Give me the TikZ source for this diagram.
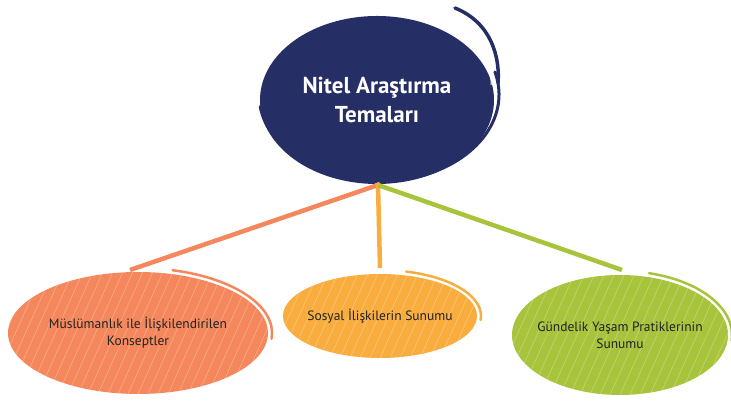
\documentclass[tikz,border=0pt]{standalone}
\usepackage{fontspec}
\setmainfont{PT Sans}
\usetikzlibrary{shapes.geometric}
\definecolor{navy}{HTML}{262E66}
\definecolor{coral}{HTML}{F5875C}
\definecolor{amber}{HTML}{F8AD3E}
\definecolor{lime}{HTML}{A8C43C}
\definecolor{ink}{HTML}{222222}
\tikzset{
  bubble/.style={ellipse, inner sep=0pt, align=center, font=\fontsize{13.5}{17}\selectfont, text=ink},
  link/.style={line width=4.5pt},
}
\newcommand{\hatchfill}[4]{% center x, center y, rx, ry
  \begin{scope}
    \clip (#1,#2) ellipse [x radius=#3, y radius=#4];
    \foreach \k in {-300,-290,...,300}{
      \draw[white, opacity=0.3, line width=0.6pt] (#1+\k,#2-#4) -- ++(#4*0.9,2*#4);
    }
  \end{scope}}
\newcommand{\swoosh}[6]{% color, cx, cy, rx, ry, width
  \draw[#1, line width=#6, line cap=round] (#2,#3) ++(75:#4+4 and #5+4) arc[start angle=75, end angle=-5, x radius=#4+4, y radius=#5+4];
}
\begin{document}
\begin{tikzpicture}[x=1pt,y=1pt]
\useasboundingbox (0,0) rectangle (731,403);
\coordinate (hub) at (378,218);
% top
\fill[navy] (377,303) ellipse [x radius=117, y radius=84];
\draw[navy, line width=3pt, line cap=round] (379,300) ++(15:120) arc[start angle=15, end angle=-172, x radius=120, y radius=87];
\draw[navy, line width=3.5pt, line cap=round] (455,395) .. controls (492,380) and (500,345) .. (498,320);
\draw[white, line width=1pt] (452,387) .. controls (482,372) and (492,340) .. (491,318);
\node[bubble, font=\fontsize{23}{29}\selectfont\bfseries, text=white, minimum width=230pt, minimum height=165pt] (top) at (377,303) {Nitel Araştırma\\Temaları};
% connectors
\draw[link, coral] (hub) -- (130,133);
\draw[link, amber] (hub) -- (380,135);
\draw[link, lime] (hub) -- (622,133);
\draw[link, amber] (top.south) -- (hub);
% left
\fill[coral] (138,70) ellipse [x radius=130, y radius=61];
\hatchfill{138}{70}{130}{61}
\swoosh{coral}{138}{70}{130}{61}{2.5pt}
\node[bubble, minimum width=255pt, minimum height=120pt] (left) at (138,70) {Müslümanlık ile İlişkilendirilen\\Konseptler};
% middle
\fill[amber] (380,87) ellipse [x radius=97, y radius=42];
\hatchfill{380}{87}{97}{42}
\swoosh{amber}{380}{87}{97}{42}{2.5pt}
\node[bubble, minimum width=190pt, minimum height=82pt] (mid) at (380,87) {Sosyal İlişkilerin Sunumu};
% right
\fill[lime] (620,68) ellipse [x radius=108, y radius=60];
\hatchfill{620}{68}{108}{60}
\swoosh{lime}{620}{68}{108}{60}{2.5pt}
\node[bubble, minimum width=212pt, minimum height=118pt] (right) at (620,68) {Gündelik Yaşam Pratiklerinin\\Sunumu};
\end{tikzpicture}
\end{document}
